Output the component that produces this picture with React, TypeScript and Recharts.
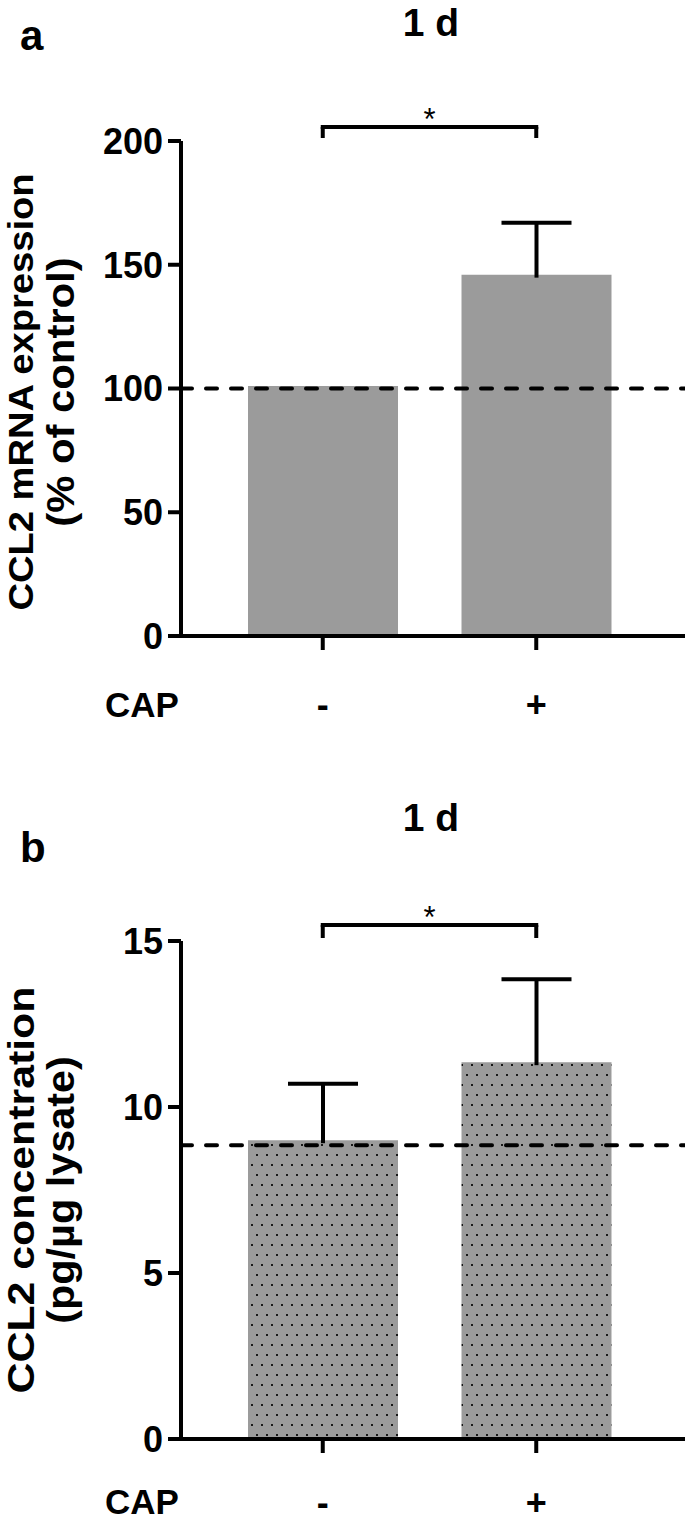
import React from 'react';
import { BarChart, Bar, XAxis, YAxis, ReferenceLine } from 'recharts';

// groups on the x axis (CAP treatment)
const groups = ['-', '+'];

// panel a: CCL2 mRNA expression (% of control)
const mrnaMean = [101, 146];
const mrnaErr = [0, 21];
const mrnaTicks = [0, 50, 100, 150, 200];
const mrnaControl = 100;
const mrnaBracket = [205.7, 201.2];

// panel b: CCL2 concentration (pg/µg lysate)
const proteinMean = [9.0, 11.35];
const proteinErr = [1.7, 2.5];
const proteinTicks = [0, 5, 10, 15];
const proteinControl = 8.85;
const proteinBracket = [15.48, 15.09];

const FONT = '"Liberation Sans", Arial, Helvetica, sans-serif';
const GREY = '#9b9b9b';

const mrnaData = groups.map((g, i) => ({ cap: g, mean: mrnaMean[i], err: mrnaErr[i] }));
const proteinData = groups.map((g, i) => ({ cap: g, mean: proteinMean[i], err: proteinErr[i] }));

// upper half of the SEM bar, drawn on the stacked "err" segment
const ErrorShape = (props: any) => {
  const { x, y, width, height } = props;
  if (!height || height <= 0) return null;
  const cx = x + width / 2;
  return (
    <g>
      <line x1={cx} x2={cx} y1={y + height + 3} y2={y} stroke="#000" strokeWidth={4} />
      <line x1={cx - 35} x2={cx + 35} y1={y} y2={y} stroke="#000" strokeWidth={4} />
    </g>
  );
};

const Star = (props: any) => {
  const vb = props.viewBox || { x: 0, y: 0, width: 0 };
  return (
    <text x={vb.x + vb.width / 2} y={vb.y + 3} textAnchor="middle" fontSize={31} fontFamily={FONT} fill="#000">
      *
    </text>
  );
};

type LabelLine = { text: string; size: number; stretch: number; base: number };

const YLabel = ({ lines, cy }: { lines: LabelLine[]; cy: number }) => (
  <g transform={`translate(0, ${cy}) rotate(-90)`}>
    {lines.map((l) => (
      <g key={l.text} transform={`scale(${l.stretch}, 1)`}>
        <text x={0} y={l.base} textAnchor="middle" fontSize={l.size} fontWeight="bold" fontFamily={FONT} fill="#000">
          {l.text}
        </text>
      </g>
    ))}
  </g>
);

const tickStyle = { fontSize: 36, fontWeight: 'bold', fill: '#000', fontFamily: FONT } as any;
const axisStyle = { stroke: '#000', strokeWidth: 4 };

type PanelProps = {
  data: any[];
  ticks: number[];
  control: number;
  bracket: number[];
  labelLines: LabelLine[];
  labelCy: number;
  height: number;
  bottom: number;
  xTickMargin: number;
  fill: string;
  withPattern?: boolean;
};

const Panel = ({ data, ticks, control, bracket, labelLines, labelCy, height, bottom, xTickMargin, fill, withPattern }: PanelProps) => (
  <BarChart width={685} height={height} data={data} margin={{ top: 141, right: 0, bottom, left: 0 }} barSize={150}>
    {withPattern && (
      <defs>
        <pattern id="dots" width={10} height={20} patternUnits="userSpaceOnUse">
          <rect width={10} height={20} fill={GREY} />
          <rect x={1} y={4} width={2} height={2} fill="#1a1a1a" />
          <rect x={6} y={14} width={2} height={2} fill="#1a1a1a" />
        </pattern>
      </defs>
    )}
    <XAxis
      dataKey="cap"
      height={80}
      padding={{ left: 35, right: 42 }}
      axisLine={axisStyle}
      tickLine={axisStyle}
      tickSize={14}
      tickMargin={xTickMargin}
      tick={tickStyle}
    />
    <YAxis
      width={181}
      domain={[0, ticks[ticks.length - 1]]}
      ticks={ticks}
      interval={0}
      axisLine={axisStyle}
      tickLine={axisStyle}
      tickSize={13}
      tickMargin={5}
      tick={tickStyle}
      label={<YLabel lines={labelLines} cy={labelCy} />}
    />
    <Bar dataKey="mean" stackId="s" fill={fill} isAnimationActive={false} />
    <Bar dataKey="err" stackId="s" fill="none" shape={<ErrorShape />} isAnimationActive={false} />
    <ReferenceLine y={control} stroke="#000" strokeWidth={4} strokeDasharray="11 14" strokeLinecap="round" />
    <ReferenceLine
      segment={[{ x: '-', y: bracket[0] }, { x: '+', y: bracket[0] }]}
      ifOverflow="visible"
      stroke="#000"
      strokeWidth={4}
      strokeLinecap="square"
      label={<Star />}
    />
    <ReferenceLine
      segment={[{ x: '-', y: bracket[0] }, { x: '-', y: bracket[1] }]}
      ifOverflow="visible"
      stroke="#000"
      strokeWidth={4}
    />
    <ReferenceLine
      segment={[{ x: '+', y: bracket[0] }, { x: '+', y: bracket[1] }]}
      ifOverflow="visible"
      stroke="#000"
      strokeWidth={4}
    />
  </BarChart>
);

const Overlay = () => {
  const t = { fontFamily: FONT, fontWeight: 'bold', fill: '#000' } as any;
  return (
    <svg width={685} height={1523} style={{ position: 'absolute', left: 0, top: 0, pointerEvents: 'none' }}>
      <text x={20} y={50} fontSize={42} {...t}>a</text>
      <text x={431} y={36} fontSize={39} textAnchor="middle" {...t}>1 d</text>
      <text x={142} y={717} fontSize={35} textAnchor="middle" {...t}>CAP</text>
      <text x={20} y={862} fontSize={42} {...t}>b</text>
      <text x={431} y={831} fontSize={39} textAnchor="middle" {...t}>1 d</text>
      <text x={142} y={1514} fontSize={35} textAnchor="middle" {...t}>CAP</text>
    </svg>
  );
};

export default function App() {
  return (
    <div style={{ position: 'absolute', left: 0, top: 0, width: 685, height: 1523, background: '#fff', fontFamily: FONT }}>
      <div style={{ position: 'absolute', left: 0, top: 0 }}>
        <Panel
          data={mrnaData}
          ticks={mrnaTicks}
          control={mrnaControl}
          bracket={mrnaBracket}
          labelLines={[
            { text: 'CCL2 mRNA expression', size: 35, stretch: 1.09, base: 33 },
            { text: '(% of control)', size: 38, stretch: 1.1, base: 74 },
          ]}
          labelCy={392}
          height={760}
          bottom={44}
          xTickMargin={41}
          fill={GREY}
        />
      </div>
      <div style={{ position: 'absolute', left: 0, top: 800 }}>
        <Panel
          data={proteinData}
          ticks={proteinTicks}
          control={proteinControl}
          bracket={proteinBracket}
          labelLines={[
            { text: 'CCL2 concentration', size: 36, stretch: 1.19, base: 34 },
            { text: '(pg/µg lysate)', size: 38, stretch: 1.09, base: 74 },
          ]}
          labelCy={390}
          height={723}
          bottom={4}
          xTickMargin={36}
          fill="url(#dots)"
          withPattern
        />
      </div>
      <Overlay />
    </div>
  );
}
